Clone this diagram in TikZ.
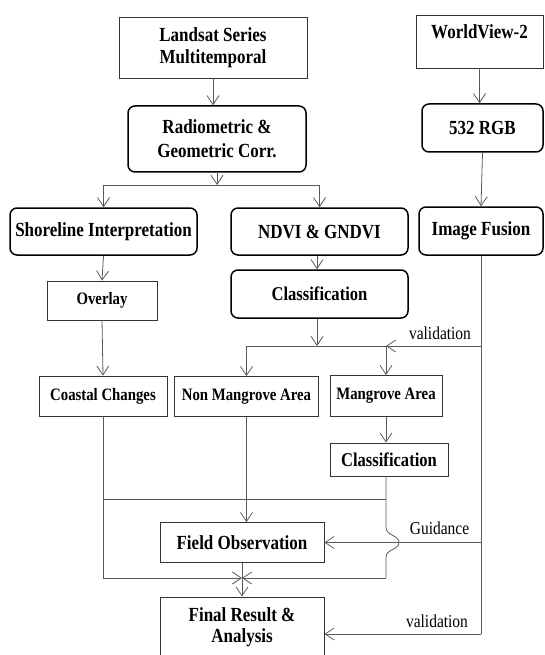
\documentclass[tikz,border=0pt]{standalone}
\usepackage{fontspec}
\setmainfont[FakeStretch=0.85]{Liberation Serif}
\usetikzlibrary{arrows.meta}

\tikzset{
  plainbox/.style={draw=black!80, line width=0.8pt, align=center, inner sep=0pt,
    font=\fontsize{20}{20}\selectfont\bfseries},
  roundbox/.style={plainbox, draw=black, line width=1.5pt, rounded corners=7pt},
  smallbox/.style={plainbox, font=\fontsize{17.4}{18}\selectfont\bfseries},
  conn/.style={draw=black!65, line width=0.8pt},
  arr/.style={conn, -{Straight Barb[length=9pt,width=12pt]}},
  lbl/.style={inner sep=0pt, font=\fontsize{18.2}{20}\selectfont}
}

\begin{document}
\begin{tikzpicture}[x=1pt,y=-1pt]
  \useasboundingbox (0,0) rectangle (545,655);
  \clip (0,0) rectangle (545,655);

  % input data
  \node[plainbox, minimum width=188pt, minimum height=61pt] (landsat) at (213,47.5) {Landsat Series\\[2pt]Multitemporal};
  \node[plainbox, minimum width=127pt, minimum height=53pt] (wv) at (479.5,41.5) {WorldView-2\\\mbox{}};

  % preprocessing
  \node[roundbox, minimum width=178pt, minimum height=66pt] (radio) at (217,139) {Radiometric \&\\[4pt]Geometric Corr.};
  \node[roundbox, minimum width=121pt, minimum height=48pt] (rgb) at (482.5,128) {532 RGB};

  \node[roundbox, minimum width=187pt, minimum height=47pt] (shore) at (103.5,231.5) {Shoreline Interpretation};
  \node[roundbox, minimum width=177pt, minimum height=47pt] (ndvi) at (319.5,231.5) {NDVI \& GNDVI};
  \node[roundbox, minimum width=124pt, minimum height=48pt] (fusion) at (481,231) {Image Fusion};

  % left branch
  \node[smallbox, minimum width=110pt, minimum height=39pt] (overlay) at (102,300.5) {Overlay};
  \node[smallbox, minimum width=128pt, minimum height=40pt] (coastal) at (103,396) {Coastal Changes};

  % middle branch
  \node[roundbox, minimum width=177pt, minimum height=48pt, font=\fontsize{19.5}{20}\selectfont\bfseries] (classif) at (319.5,294) {Classification};
  \node[smallbox, minimum width=144pt, minimum height=40pt] (nonmang) at (246.5,396.5) {Non Mangrove Area};
  \node[smallbox, minimum width=112pt, minimum height=41pt] (mang) at (386,396) {Mangrove Area};
  \node[plainbox, minimum width=118pt, minimum height=33pt, font=\fontsize{19.5}{20}\selectfont\bfseries] (class2) at (389,459.5) {Classification};

  % results
  \node[plainbox, minimum width=164pt, minimum height=40pt] (fobs) at (242,542.5) {Field Observation};
  \node[plainbox, minimum width=164pt, minimum height=60pt] (final) at (242,627) {Final Result \&\\[1pt]Analysis};

  % labels
  \node[lbl] (val1) at (440,333) {validation};
  \node[lbl] (guide) at (439.5,528) {Guidance};
  \node[lbl] (val2) at (437,621) {validation};

  \coordinate (split1) at (217,185);
  \coordinate (split2) at (317,346);
  \coordinate (fusesplit) at (fusion.south |- split2);
  \coordinate (valbot) at (fusion.south |- 0,634);
  \coordinate (mergeL) at (coastal.south |- 0,578);
  \coordinate (mergeR) at (mang.south |- 0,578);
  \coordinate (mid) at (fobs.south |- mergeL);

  % top part
  \draw[arr] (landsat.south) -- (landsat.south |- radio.north);
  \draw[arr] (wv.south) -- (wv.south |- rgb.north);
  \draw[arr] (radio.south) -- (split1);
  \draw[conn] (shore.north |- split1) -- (ndvi.north |- split1);
  \draw[arr] (shore.north |- split1) -- (shore.north);
  \draw[arr] (ndvi.north |- split1) -- (ndvi.north);
  \draw[arr] (rgb.south) -- (fusion.north);

  % left branch
  \draw[arr] (shore.south) -- (overlay.north);
  \draw[arr] (overlay.south) -- (coastal.north);

  % middle branch
  \draw[arr] (split2 |- ndvi.south) -- (split2 |- classif.north);
  \draw[arr] (split2 |- classif.south) -- (split2);
  \draw[conn] (nonmang.north |- split2) -- (fusesplit);
  \draw[arr] (fusesplit) -- (mang.north |- split2);
  \draw[arr] (nonmang.north |- split2) -- (nonmang.north);
  \draw[arr] (mang.north |- split2) -- (mang.north);
  \draw[arr] (mang.south) -- (mang.south |- class2.north);

  % validation line
  \draw[conn] (fusion.south) -- (valbot);
  \draw[arr] (valbot) -- (valbot -| final.east);
  \draw[arr] (fusion.south |- fobs.east) -- (fobs.east);

  % merging
  \draw[conn] (coastal.south |- 0,499) -- (mergeR |- 0,499);
  \draw[conn] (coastal.south) -- (mergeL);
  \draw[arr] (mergeL) -- (mid);
  \draw[conn] (mang.south |- class2.south) -- (386,527)
    .. controls (386,536) and (399,535) .. (399,542.5)
    .. controls (399,550) and (386,549) .. (386,557) -- (mergeR);
  \draw[arr] (mergeR) -- (mid);
  \draw[arr] (nonmang.south) -- (nonmang.south |- fobs.north);
  \draw[arr] (fobs.south) -- (final.north);
\end{tikzpicture}
\end{document}
